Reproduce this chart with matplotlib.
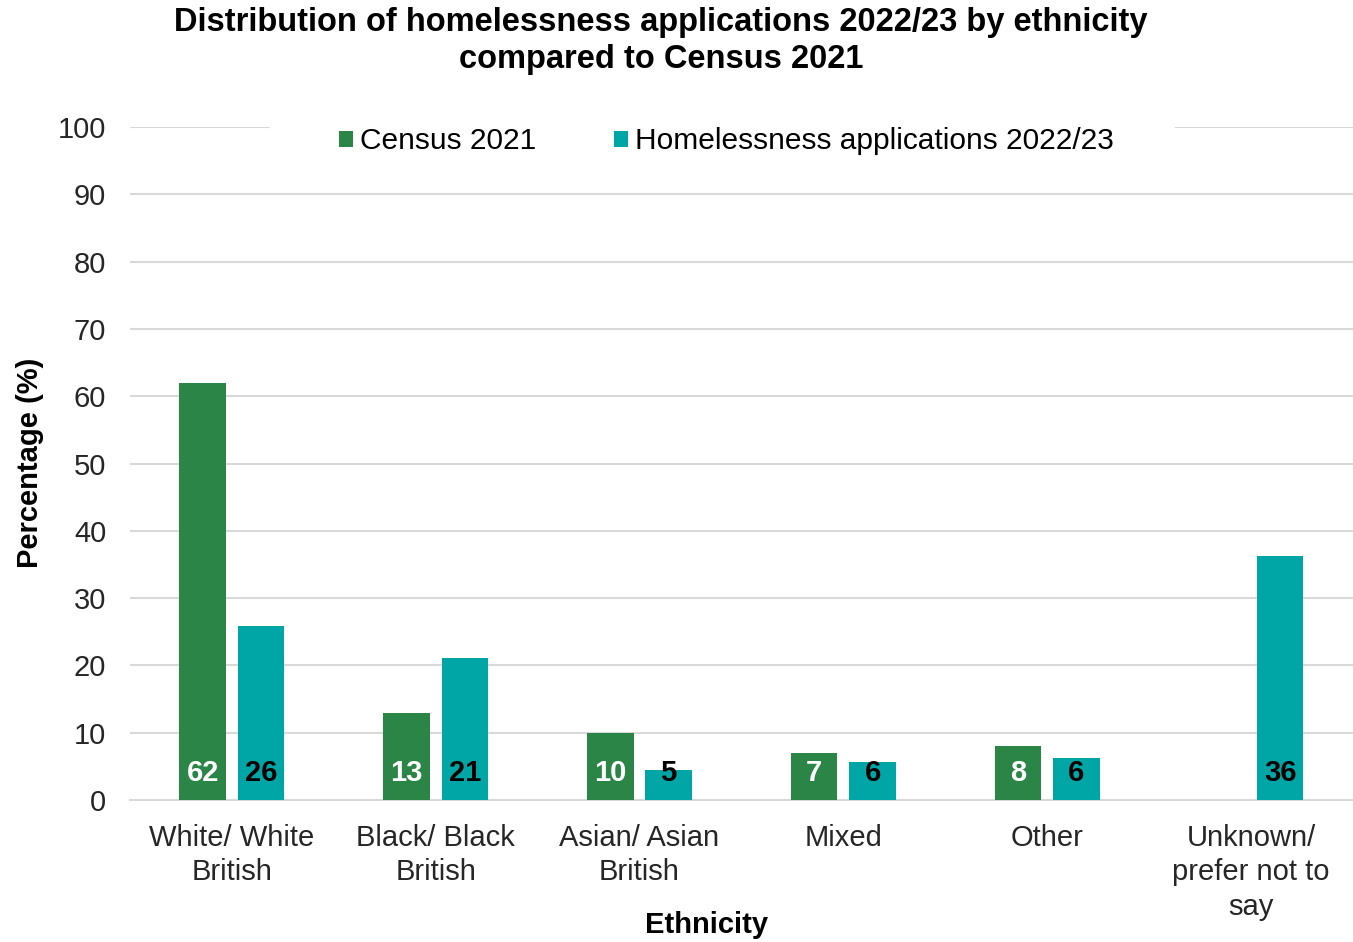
import matplotlib.pyplot as plt
from matplotlib.patches import Rectangle
import numpy as np

plt.rcParams['font.family'] = ['Liberation Sans', 'DejaVu Sans']

categories = ['White/ White\nBritish', 'Black/ Black\nBritish', 'Asian/ Asian\nBritish',
              'Mixed', 'Other', 'Unknown/\nprefer not to\nsay']
census = [62, 13, 10, 7, 8, np.nan]
homeless = [25.8, 21.1, 4.4, 5.7, 6.2, 36.2]
census_labels = ['62', '13', '10', '7', '8', '']
homeless_labels = ['26', '21', '5', '6', '6', '36']

green = '#2a8547'
teal = '#00a6a6'
fs = 21

fig = plt.figure(figsize=(13.53, 9.42), dpi=100)
ax = fig.add_axes([0.096, 0.1507, 0.904, 0.7144])

x = np.arange(len(categories))
off = 0.143
w = 0.228
ax.bar(x - off, census, w, color=green, label='Census 2021', zorder=3)
ax.bar(x + off, homeless, w, color=teal, label='Homelessness applications 2022/23', zorder=3)

# value labels sit near the bottom of each bar
for i in range(len(categories)):
    if census_labels[i]:
        ax.text(x[i] - off, 4.0, census_labels[i], ha='center', va='center',
                color='white', fontsize=fs, fontweight='bold', zorder=4)
    ax.text(x[i] + off, 4.0, homeless_labels[i], ha='center', va='center',
            color='black', fontsize=fs, fontweight='bold', zorder=4)

ax.set_xlim(-0.5, 5.5)
ax.set_ylim(0, 100)
ax.set_yticks(np.arange(0, 101, 10))
ax.set_xticks(x)
ax.set_xticklabels(categories, linespacing=1.3)
ax.tick_params(axis='both', length=0, labelsize=fs, colors='#262626')
ax.tick_params(axis='y', pad=17)
ax.tick_params(axis='x', pad=17)
ax.grid(axis='y', color='#d9d9d9', linewidth=1.5, zorder=0)
for s in ['top', 'right', 'left']:
    ax.spines[s].set_visible(False)
ax.spines['bottom'].set_color('#d9d9d9')
ax.spines['bottom'].set_linewidth(1.5)

# white strip behind the legend hides the top gridline
ax.add_patch(Rectangle((0.1145, 0.96), 0.74, 0.06, transform=ax.transAxes,
                       facecolor='white', edgecolor='none', zorder=2, clip_on=False))
leg = ax.legend(loc='center', bbox_to_anchor=(0.488, 0.979), ncol=2, frameon=False,
                fontsize=21.5, handlelength=0.45, handleheight=0.45, handletextpad=0.25,
                columnspacing=2.6, borderpad=0.3)
leg.set_zorder(5)

fig.text(0.4886, 0.993, 'Distribution of homelessness applications 2022/23 by ethnicity\ncompared to Census 2021',
         ha='center', va='top', fontsize=23.5, fontweight='bold', linespacing=1.25)
fig.text(0.022, 0.5085, 'Percentage (%)', rotation=90, ha='center', va='center',
         fontsize=fs, fontweight='bold')
fig.text(0.5225, 0.018, 'Ethnicity', ha='center', va='center', fontsize=fs, fontweight='bold')

fig.savefig('out.png', dpi=100)
